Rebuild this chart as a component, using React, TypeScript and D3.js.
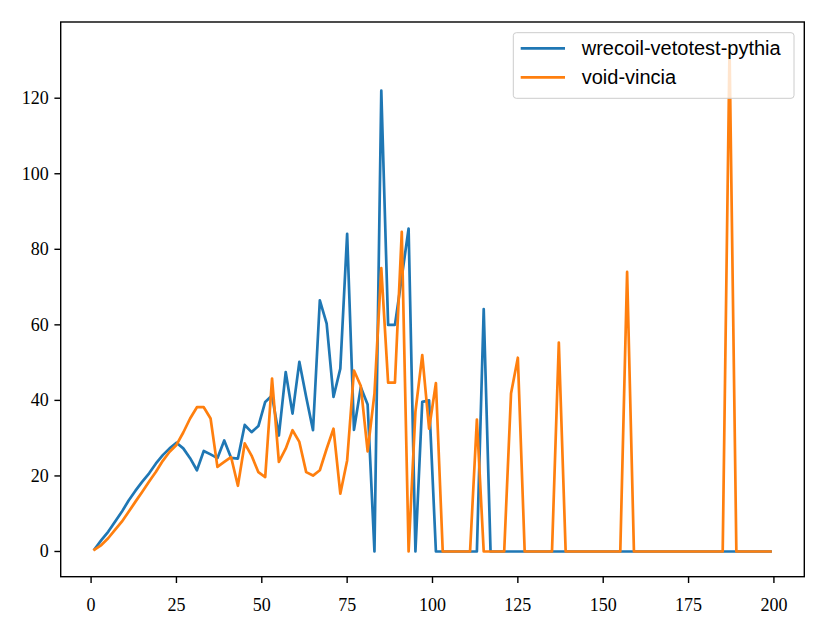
import * as d3 from 'd3';

// sample positions (odd bins 1..199)
const xs = [
  1, 3, 5, 7, 9, 11, 13, 15, 17, 19, 21, 23, 25, 27, 29, 31, 33, 35, 37, 39,
  41, 43, 45, 47, 49, 51, 53, 55, 57, 59, 61, 63, 65, 67, 69, 71, 73, 75, 77, 79,
  81, 83, 85, 87, 89, 91, 93, 95, 97, 99, 101, 103, 105, 107, 109, 111, 113, 115, 117, 119,
  121, 123, 125, 127, 129, 131, 133, 135, 137, 139, 141, 143, 145, 147, 149, 151, 153, 155, 157, 159,
  161, 163, 165, 167, 169, 171, 173, 175, 177, 179, 181, 183, 185, 187, 189, 191, 193, 195, 197, 199,
];

const pythiaValues = [
  0.6, 3.0, 5.2, 7.9, 10.5, 13.5, 16.1, 18.5, 20.7, 23.3, 25.5, 27.3, 28.8, 27.3, 24.7, 21.5, 26.6, 25.7, 24.7, 29.4,
  24.8, 24.6, 33.5, 31.6, 33.2, 39.6, 41.3, 30.7, 47.5, 36.5, 50.2, 40.9, 32.1, 66.5, 60.3, 40.9, 48.4, 84.1, 32.2, 43.5,
  38.9, 0, 122, 60, 60, 72.6, 85.5, 0, 39.6, 40, 0, 0, 0, 0, 0, 0, 0, 64.2, 0, 0,
  0, 0, 0, 0, 0, 0, 0, 0, 0, 0, 0, 0, 0, 0, 0, 0, 0, 0, 0, 0,
  0, 0, 0, 0, 0, 0, 0, 0, 0, 0, 0, 0, 0, 0, 0, 0, 0, 0, 0, 0,
];

const vinciaValues = [
  0.5, 1.7, 3.5, 5.7, 7.9, 10.5, 13.2, 15.8, 18.5, 21.1, 24.0, 26.4, 28.2, 31.5, 35.2, 38.2, 38.2, 35.2, 22.4, 23.7,
  25, 17.4, 28.6, 25.4, 21, 19.7, 45.8, 23.7, 27.2, 32.1, 29, 21, 20.1, 21.5, 27.2, 32.5, 15.3, 24.1, 47.9, 43.8,
  26.5, 41.8, 75, 44.7, 44.7, 84.6, 0, 37, 52, 32.5, 44.6, 0, 0, 0, 0, 0, 34.9, 0, 0, 0,
  0, 41.8, 51.3, 0, 0, 0, 0, 0, 55.3, 0, 0, 0, 0, 0, 0, 0, 0, 0, 74, 0,
  0, 0, 0, 0, 0, 0, 0, 0, 0, 0, 0, 0, 0, 133.5, 0, 0, 0, 0, 0, 0,
];

const seriesNames = ['wrecoil-vetotest-pythia', 'void-vincia'];
const seriesColors = ['#1f77b4', '#ff7f0e'];
const xTicks = [0, 25, 50, 75, 100, 125, 150, 175, 200];
const yTicks = [0, 20, 40, 60, 80, 100, 120];

const W = 828;
const H = 626;
const frame = { left: 60.7, right: 804.3, top: 22, bottom: 576.7 };

const App = () => {
  // matplotlib-style 5% margins
  const xMin = d3.min(xs) ?? 0;
  const xMax = d3.max(xs) ?? 1;
  const xPad = (xMax - xMin) * 0.05;
  const yMax = d3.max([...pythiaValues, ...vinciaValues]) ?? 1;
  const yPad = yMax * 0.05;

  const x = d3.scaleLinear().domain([xMin - xPad, xMax + xPad]).range([frame.left, frame.right]);
  const y = d3.scaleLinear().domain([-yPad, yMax + yPad]).range([frame.bottom, frame.top]);

  const line = d3
    .line<number>()
    .x((_, i) => x(xs[i]))
    .y(d => y(d));

  const series = [pythiaValues, vinciaValues];
  const serif = '"Liberation Serif", serif';
  const sans = '"Liberation Sans", Arial, sans-serif';

  // legend box
  const lg = { x: 513.3, y: 32.7, w: 280.7, h: 65.6 };

  return (
    <svg
      width={W}
      height={H}
      style={{ position: 'absolute', left: 0, top: 0, background: '#fff' }}
    >
      <rect x={0} y={0} width={W} height={H} fill="#fff" />

      {series.map((vals, i) => (
        <path
          key={seriesNames[i]}
          d={line(vals) ?? ''}
          fill="none"
          stroke={seriesColors[i]}
          strokeWidth={2.7}
          strokeLinejoin="round"
          strokeLinecap="square"
        />
      ))}

      {/* frame */}
      <rect
        x={frame.left}
        y={frame.top}
        width={frame.right - frame.left}
        height={frame.bottom - frame.top}
        fill="none"
        stroke="#000"
        strokeWidth={1.4}
      />

      {/* x axis */}
      {xTicks.map(t => (
        <g key={'x' + t} transform={`translate(${x(t)},${frame.bottom})`}>
          <line y1={0} y2={6.3} stroke="#000" strokeWidth={1.4} />
          <text y={34} textAnchor="middle" fontFamily={serif} fontSize={18} fill="#000">
            {t}
          </text>
        </g>
      ))}

      {/* y axis */}
      {yTicks.map(t => (
        <g key={'y' + t} transform={`translate(${frame.left},${y(t)})`}>
          <line x1={0} x2={-6.3} stroke="#000" strokeWidth={1.4} />
          <text x={-12} y={6} textAnchor="end" fontFamily={serif} fontSize={18} fill="#000">
            {t}
          </text>
        </g>
      ))}

      {/* legend */}
      <rect
        x={lg.x}
        y={lg.y}
        width={lg.w}
        height={lg.h}
        rx={3}
        fill="#fff"
        fillOpacity={0.8}
        stroke="#cccccc"
        strokeWidth={1}
      />
      {seriesNames.map((name, i) => (
        <g key={'lg' + name} transform={`translate(${lg.x},${lg.y + 15.6 + i * 29})`}>
          <line x1={7.4} x2={51.7} y1={0} y2={0} stroke={seriesColors[i]} strokeWidth={2.7} />
          <text x={68.4} y={7} fontFamily={sans} fontSize={20} fill="#000">
            {name}
          </text>
        </g>
      ))}
    </svg>
  );
};

export default App;
